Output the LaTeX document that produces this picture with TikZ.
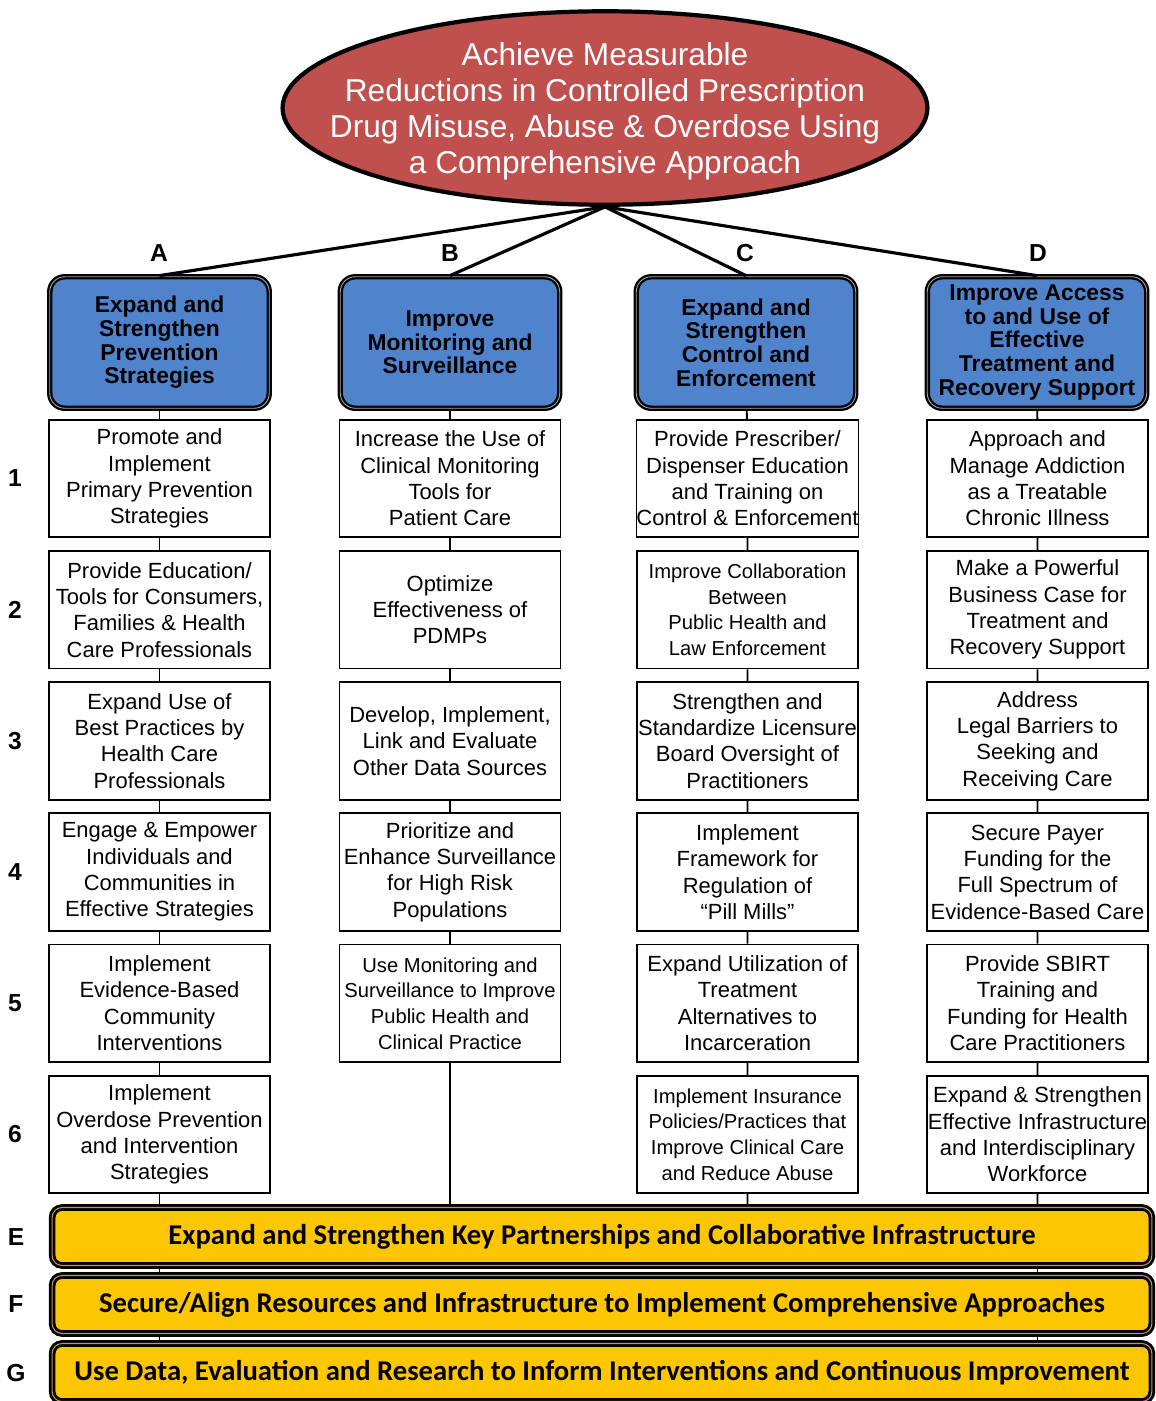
\documentclass[tikz,border=0pt]{standalone}
\usepackage{fontspec}
\setmainfont{Liberation Sans}
\newfontfamily\barfont{Carlito}
\usetikzlibrary{shapes.geometric,positioning}

\definecolor{goalred}{RGB}{192,80,77}
\definecolor{stratblue}{RGB}{79,132,205}
\definecolor{baryellow}{RGB}{252,198,0}
\definecolor{bartan}{RGB}{190,150,95}

\begin{document}
\begin{tikzpicture}[x=0.02cm, y=-0.02cm,
        goal/.style={ellipse, draw=black, line width=2.4pt, fill=goalred, minimum width=12.9cm, minimum height=3.87cm, inner sep=0pt},
        goaltext/.style={text=white, align=center, inner sep=0pt, font=\fontsize{18}{20.5}\selectfont},
        strat/.style={rectangle, rounded corners=0.3cm, draw=black, line width=1.3pt, double=gray!70, double distance=0.5pt, fill=stratblue, minimum width=4.39cm, minimum height=2.63cm, inner sep=0pt, align=center, font=\fontsize{13}{13.5}\selectfont\bfseries},
        item/.style={rectangle, draw=black, line width=1pt, fill=white, minimum width=4.42cm, minimum height=2.35cm, inner sep=0pt, align=center, font=\fontsize{12.5}{15}\selectfont},
        small/.style={font=\fontsize{11.5}{14.6}\selectfont},
        bar/.style={rectangle, rounded corners=0.2cm, draw=black, line width=1.6pt, double=bartan, double distance=0.6pt, fill=baryellow, minimum width=22cm, minimum height=1.16cm, inner sep=0pt, font=\barfont\fontsize{16.3}{18}\selectfont\bfseries},
        tag/.style={font=\fontsize{14}{16}\selectfont\bfseries},
        link/.style={draw=black, line width=1.1pt},
        spoke/.style={draw=black, line width=1.8pt},
    ]
        \useasboundingbox (0,0) rectangle (1156,1401);

        % Goal
        \node[goal] (goal) at (605, 108) {};
        \node[goaltext] (goalt) at (605, 111) {Achieve Measurable\\Reductions in Controlled Prescription\\Drug Misuse, Abuse \& Overdose Using\\a Comprehensive Approach};

        % Strategy headers
        \node[tag] (tA) at (159, 253) {A};
        \node[tag] (tB) at (450, 253) {B};
        \node[tag] (tC) at (745, 253) {C};
        \node[tag] (tD) at (1038, 253) {D};
        \node[strat] (hA) at (159.5, 342.5) {Expand and\\Strengthen\\Prevention\\Strategies};
        \node[strat] (hB) at (450, 342.5) {Improve\\Monitoring and\\Surveillance};
        \node[strat] (hC) at (746, 342.5) {Expand and\\Strengthen\\Control and\\Enforcement};
        \node[strat] (hD) at (1037, 342.5) {Improve Access\\to and Use of\\Effective\\Treatment  and\\Recovery Support};
        \draw[spoke] (goal.south) -- (hA.north);
        \draw[spoke] (goal.south) -- (hB.north);
        \draw[spoke] (goal.south) -- (hC.north);
        \draw[spoke] (goal.south) -- (hD.north);

        % Row numbers
        \node[tag] (r1) at (15, 478.5) {1};
        \node[tag] (r2) at (15, 609.7) {2};
        \node[tag] (r3) at (15, 740.9) {3};
        \node[tag] (r4) at (15, 872.1) {4};
        \node[tag] (r5) at (15, 1003.3) {5};
        \node[tag] (r6) at (15, 1134.5) {6};

        % Column A
        \node[item] (a1) at (159.5, 478.5) {Promote and\\Implement\\Primary Prevention\\Strategies};
        \node[item] (a2) at (159.5, 609.7) {Provide Education/\\Tools for Consumers,\\Families \& Health\\Care Professionals};
        \node[item] (a3) at (159.5, 740.9) {Expand Use of\\Best Practices by\\Health Care\\Professionals};
        \node[item] (a4) at (159.5, 872.1) {Engage \& Empower\\Individuals and\\Communities in\\Effective Strategies};
        \node[item] (a5) at (159.5, 1003.3) {Implement\\Evidence-Based\\Community\\Interventions};
        \node[item] (a6) at (159.5, 1134.5) {Implement\\Overdose Prevention\\and Intervention\\Strategies};

        % Column B
        \node[item] (b1) at (450, 478.5) {Increase the Use of\\Clinical Monitoring\\Tools for\\Patient Care};
        \node[item] (b2) at (450, 609.7) {Optimize\\Effectiveness of\\PDMPs};
        \node[item] (b3) at (450, 740.9) {Develop, Implement,\\Link and Evaluate\\Other Data Sources};
        \node[item] (b4) at (450, 872.1) {Prioritize and\\Enhance Surveillance\\for High Risk\\Populations};
        \node[item, small] (b5) at (450, 1003.3) {Use Monitoring and\\Surveillance to Improve\\Public Health and\\Clinical Practice};

        % Column C
        \node[item] (c1) at (747.5, 478.5) {Provide Prescriber/\\Dispenser Education\\and Training on\\Control \& Enforcement};
        \node[item, small] (c2) at (747.5, 609.7) {Improve Collaboration\\Between\\Public Health and\\Law Enforcement};
        \node[item] (c3) at (747.5, 740.9) {Strengthen and\\Standardize Licensure\\Board Oversight of\\Practitioners};
        \node[item] (c4) at (747.5, 872.1) {Implement\\Framework for\\Regulation of\\“Pill Mills”};
        \node[item] (c5) at (747.5, 1003.3) {Expand Utilization of\\Treatment\\Alternatives to\\Incarceration};
        \node[item, small] (c6) at (747.5, 1134.5) {Implement Insurance\\Policies/Practices that\\Improve Clinical Care\\and Reduce Abuse};

        % Column D
        \node[item] (d1) at (1037.5, 478.5) {Approach and\\Manage Addiction\\as a Treatable\\Chronic Illness};
        \node[item] (d2) at (1037.5, 609.7) {Make a Powerful\\Business Case for\\Treatment and\\Recovery Support};
        \node[item] (d3) at (1037.5, 740.9) {Address\\Legal Barriers to\\Seeking and\\Receiving Care};
        \node[item] (d4) at (1037.5, 872.1) {Secure Payer\\Funding for the\\Full Spectrum of\\Evidence-Based Care};
        \node[item] (d5) at (1037.5, 1003.3) {Provide SBIRT\\Training and\\Funding for Health\\Care Practitioners};
        \node[item] (d6) at (1037.5, 1134.5) {Expand \& Strengthen\\Effective Infrastructure\\and Interdisciplinary\\Workforce};

        % Cross-cutting bars
        \node[tag] (lE) at (16, 1237) {E};
        \node[tag] (lF) at (16, 1304) {F};
        \node[tag] (lG) at (16, 1373) {G};
        \node[bar] (barE) at (602, 1236.5) {Expand and Strengthen Key Partnerships and Collaborative Infrastructure};
        \node[bar] (barF) at (602, 1304.5) {Secure/Align Resources and Infrastructure to Implement Comprehensive Approaches};
        \node[bar] (barG) at (602, 1372.5) {Use Data, Evaluation and Research to Inform Interventions and Continuous Improvement};

        % Connectors
        \draw[link] (hA) -- (a1) -- (a2) -- (a3) -- (a4) -- (a5) -- (a6) -- (a6 |- barE.north);
        \draw[link] (hB) -- (b1) -- (b2) -- (b3) -- (b4) -- (b5) -- (b5 |- barE.north);
        \draw[link] (hC) -- (c1) -- (c2) -- (c3) -- (c4) -- (c5) -- (c6) -- (c6 |- barE.north);
        \draw[link] (hD) -- (d1) -- (d2) -- (d3) -- (d4) -- (d5) -- (d6) -- (d6 |- barE.north);
        \draw[link] (barE.south -| a6) -- (barF.north -| a6);
        \draw[link] (barF.south -| a6) -- (barG.north -| a6);
        \draw[link] (barE.south -| d6) -- (barF.north -| d6);
        \draw[link] (barF.south -| d6) -- (barG.north -| d6);
    \end{tikzpicture}
\end{document}
